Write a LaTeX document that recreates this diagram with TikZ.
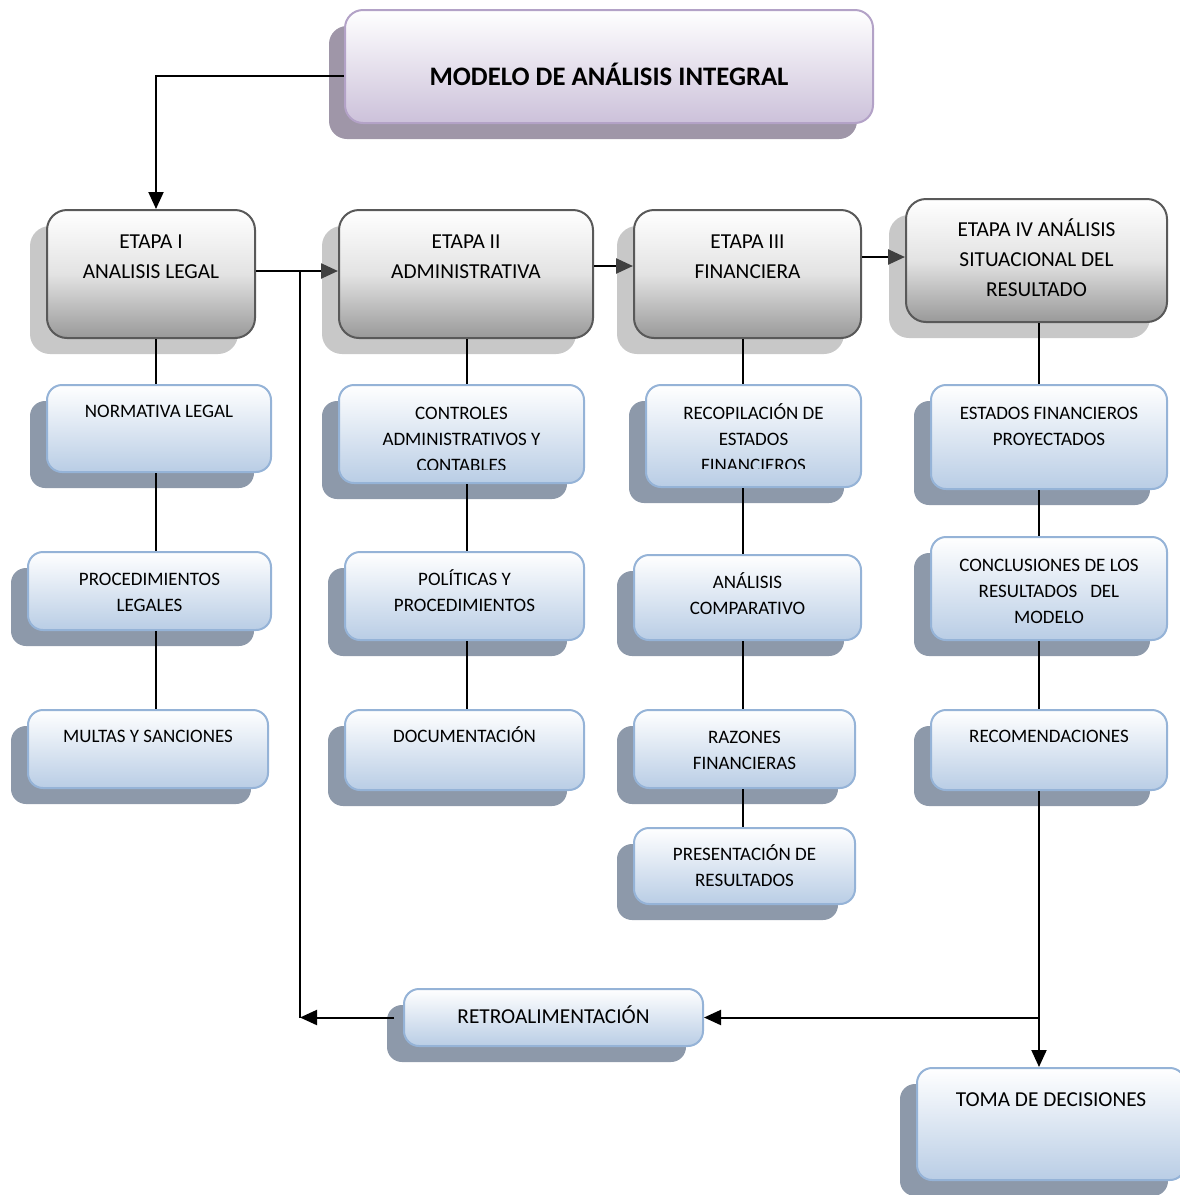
\documentclass[tikz,border=0pt]{standalone}
\usepackage{fontspec}
\setmainfont{Carlito}
\usetikzlibrary{arrows.meta,shadows}

\definecolor{bordeEtapa}{HTML}{595959}
\definecolor{sombraEtapa}{HTML}{C8C8C8}
\definecolor{bordeCaja}{HTML}{95B3D7}
\definecolor{fondoCaja}{HTML}{B9CDE5}
\definecolor{sombraCaja}{HTML}{8D99AA}
\definecolor{bordeTitulo}{HTML}{B3A2C7}
\definecolor{fondoTitulo}{HTML}{CCC1DA}
\definecolor{sombraTitulo}{HTML}{9F96A8}
\definecolor{cabeza}{HTML}{404040}

\newcommand\fchica{\fontsize{19pt}{26pt}\selectfont}
\newcommand\fetapa{\fontsize{21.3pt}{30pt}\selectfont}
\newcommand\ftitulo{\fontsize{26.7pt}{30pt}\selectfont\bfseries}

\tikzset{
  etapa/.style={rectangle, rounded corners=20pt, draw=bordeEtapa, line width=2pt,
    top color=white, bottom color=gray!80!white, middle color=gray!22!white,
    drop shadow={shadow xshift=-17pt, shadow yshift=-16pt, fill=sombraEtapa, opacity=1}},
  caja/.style={rectangle, rounded corners=15pt, draw=bordeCaja, line width=2pt,
    top color=white, bottom color=fondoCaja,
    drop shadow={shadow xshift=-17pt, shadow yshift=-16pt, fill=sombraCaja, opacity=1}},
  titulo/.style={rectangle, rounded corners=18pt, draw=bordeTitulo, line width=2pt,
    top color=white, bottom color=fondoTitulo,
    drop shadow={shadow xshift=-16pt, shadow yshift=-16pt, fill=sombraTitulo, opacity=1}},
  txt/.style={align=center, inner sep=0pt, anchor=north, font=\fchica,
    execute at begin node=\strut},
  txtetapa/.style={txt, font=\fetapa},
  linea/.style={line width=2pt},
  flecha/.style={line width=2pt, -{Triangle[length=17pt,width=15pt]}},
  flechagris/.style={line width=2.5pt, -{Triangle[length=17pt,width=15pt,color=cabeza]}}
}

\begin{document}
\begin{tikzpicture}[x=1pt, y=-1pt]
  \useasboundingbox (0,0) rectangle (1179,1195);

  % titulo
  \node[titulo, minimum width=528pt, minimum height=113pt] (tit) at (609,66.5) {};
  \node[inner sep=0pt, font=\ftitulo] (tit-t) at ([yshift=-7.5pt]tit.center) {MODELO DE ANÁLISIS INTEGRAL};

  % etapas
  \node[etapa, minimum width=208pt, minimum height=128pt] (e1) at (151,274) {};
  \node[etapa, minimum width=254pt, minimum height=128pt] (e2) at (466,274) {};
  \node[etapa, minimum width=227pt, minimum height=128pt] (e3) at (747.5,274) {};
  \node[etapa, minimum width=261pt, minimum height=123pt] (e4) at (1036.5,260.5) {};
  \node[txtetapa] (e1-t) at ([yshift=-25.6pt]e1.north) {ETAPA I\\ANALISIS LEGAL};
  \node[txtetapa] (e2-t) at ([yshift=-25.6pt]e2.north) {ETAPA II\\ADMINISTRATIVA};
  \node[txtetapa] (e3-t) at ([yshift=-25.6pt]e3.north) {ETAPA III\\FINANCIERA};
  \node[txtetapa] (e4-t) at ([yshift=-20.6pt]e4.north) {ETAPA IV ANÁLISIS\\SITUACIONAL DEL\\RESULTADO};

  % columna 1
  \node[caja, minimum width=224pt, minimum height=87pt] (norm) at (159,428.5) {};
  \node[caja, minimum width=243pt, minimum height=78pt] (proc) at (149.5,591) {};
  \node[caja, minimum width=240pt, minimum height=78pt] (mult) at (148,749) {};
  \node[txt] (norm-t) at ([yshift=-14.8pt]norm.north) {NORMATIVA LEGAL};
  \node[txt] (proc-t) at ([yshift=-21.8pt]proc.north) {PROCEDIMIENTOS\\LEGALES};
  \node[txt] (mult-t) at ([yshift=-14.8pt]mult.north) {MULTAS Y SANCIONES};

  % columna 2
  \node[caja, minimum width=245pt, minimum height=98pt] (ctrl) at (461.5,434) {};
  \node[caja, minimum width=239pt, minimum height=88pt] (poli) at (464.5,596) {};
  \node[caja, minimum width=239pt, minimum height=80pt] (docu) at (464.5,750) {};
  \begin{scope}
    \clip (ctrl.north west) rectangle ([yshift=15pt]ctrl.south east);
    \node[txt] (ctrl-t) at ([yshift=-22.8pt]ctrl.north) {CONTROLES\\ADMINISTRATIVOS Y\\CONTABLES};
  \end{scope}
  \node[txt] (poli-t) at ([yshift=-18.8pt]poli.north) {POLÍTICAS Y\\PROCEDIMIENTOS};
  \node[txt] (docu-t) at ([yshift=-14.8pt]docu.north) {DOCUMENTACIÓN};

  % columna 3
  \node[caja, minimum width=215pt, minimum height=102pt] (reco) at (753.5,436) {};
  \node[caja, minimum width=227pt, minimum height=85pt] (anal) at (747.5,597.5) {};
  \node[caja, minimum width=221pt, minimum height=78pt] (razo) at (744.5,749) {};
  \node[caja, minimum width=221pt, minimum height=76pt] (pres) at (744.5,866) {};
  \begin{scope}
    \clip (reco.north west) rectangle ([yshift=19.5pt]reco.south east);
    \node[txt] (reco-t) at ([yshift=-19.8pt]reco.north) {RECOPILACIÓN DE\\ESTADOS\\FINANCIEROS};
  \end{scope}
  \node[txt] (anal-t) at ([yshift=-18.8pt]anal.north) {ANÁLISIS\\COMPARATIVO};
  \node[txt] (razo-t) at ([yshift=-21.8pt]razo.north) {RAZONES\\FINANCIERAS};
  \node[txt] (pres-t) at ([yshift=-17.8pt]pres.north) {PRESENTACIÓN DE\\RESULTADOS};

  % columna 4
  \node[caja, minimum width=236pt, minimum height=104pt] (esta) at (1049,437) {};
  \node[caja, minimum width=236pt, minimum height=103pt] (conc) at (1049,588.5) {};
  \node[caja, minimum width=236pt, minimum height=80pt] (recom) at (1049,750) {};
  \node[txt] (esta-t) at ([yshift=-22.8pt]esta.north) {ESTADOS FINANCIEROS\\PROYECTADOS};
  \node[txt] (conc-t) at ([yshift=-22.8pt]conc.north) {CONCLUSIONES DE LOS\\RESULTADOS\ \ \ DEL\\MODELO};
  \node[txt] (recom-t) at ([yshift=-14.8pt]recom.north) {RECOMENDACIONES};

  % abajo
  \node[caja, minimum width=299pt, minimum height=57pt] (retro) at (553.5,1017.5) {};
  \node[inner sep=0pt, font=\fetapa] (retro-t) at ([yshift=2.5pt]retro.center) {RETROALIMENTACIÓN};
  \node[caja, minimum width=268pt, minimum height=112pt] (toma) at (1051,1124) {};
  \node[txtetapa] (toma-t) at ([yshift=-18.6pt]toma.north) {TOMA DE DECISIONES};

  % conectores
  \coordinate (c1) at ([xshift=5pt]e1.south);
  \coordinate (c2) at ([xshift=1pt]e2.south);
  \coordinate (c3) at ([xshift=-4.5pt]e3.south);
  \coordinate (c4) at ([xshift=2.5pt]e4.south);
  \coordinate (fb) at (300,271);

  \draw[flecha] ([yshift=-9pt]tit.west) -| ([xshift=5pt]e1.north);
  \draw[flechagris] ([yshift=3pt]e1.east) -- ([yshift=3pt]e1.east -| e2.west);
  \draw[flechagris] ([yshift=8pt]e2.east) -- ([yshift=8pt]e2.east -| e3.west);
  \draw[flechagris] ([yshift=17pt]e3.east) -- ([yshift=17pt]e3.east -| e4.west);

  \draw[linea] (c1) -- (c1 |- norm.north);
  \draw[linea] (c1 |- norm.south) -- (c1 |- proc.north);
  \draw[linea] (c1 |- proc.south) -- (c1 |- mult.north);

  \draw[linea] (c2) -- (c2 |- ctrl.north);
  \draw[linea] (c2 |- ctrl.south) -- (c2 |- poli.north);
  \draw[linea] (c2 |- poli.south) -- (c2 |- docu.north);

  \draw[linea] (c3) -- (c3 |- reco.north);
  \draw[linea] (c3 |- reco.south) -- (c3 |- anal.north);
  \draw[linea] (c3 |- anal.south) -- (c3 |- razo.north);
  \draw[linea] (c3 |- razo.south) -- (c3 |- pres.north);

  \draw[linea] (c4) -- (c4 |- esta.north);
  \draw[linea] (c4 |- esta.south) -- (c4 |- conc.north);
  \draw[linea] (c4 |- conc.south) -- (c4 |- recom.north);
  \draw[flecha] (c4 |- recom.south) -- (c4 |- toma.north);
  \draw[flecha] (c4 |- retro.east) -- (retro.east);

  \draw[linea] (fb) -- (fb |- retro.west);
  \draw[flecha] ([xshift=-9pt]retro.west) -- (retro.west -| fb);
\end{tikzpicture}
\end{document}
